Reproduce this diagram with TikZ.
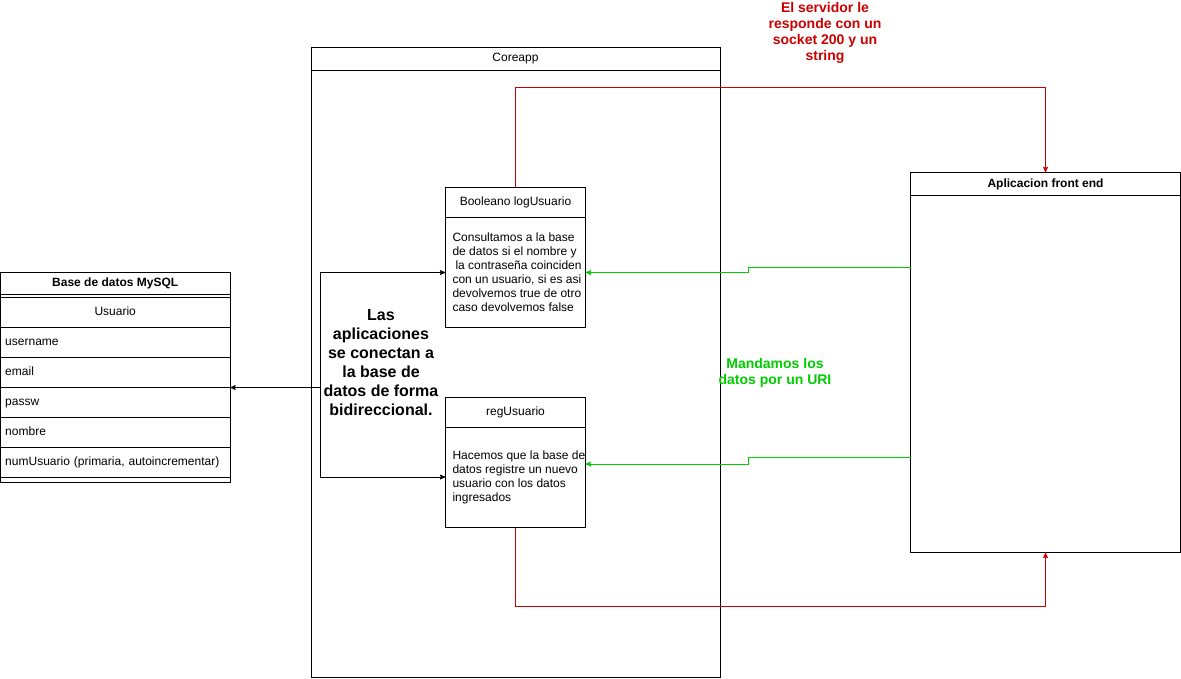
\documentclass[tikz,border=0pt]{standalone}
\usepackage{fontspec}
\setmainfont{Liberation Sans}
\usepackage{tikz}
\usetikzlibrary{arrows,positioning}
\definecolor{servred}{HTML}{CC0000}
\definecolor{urigreen}{HTML}{00CC00}

\tikzset{
  frame/.style={draw,rectangle,anchor=north west,inner sep=0pt,outer sep=0pt},
  headbox/.style={frame,font=\fontsize{12}{14}\selectfont},
  rowbox/.style={frame,minimum width=229.5,minimum height=30,font=\fontsize{12}{14}\selectfont,
    text width=220,align=left,text height=9pt,text depth=3pt},
  bodytext/.style={anchor=west,inner sep=0pt,align=left,font=\fontsize{12}{14}\selectfont},
}

\begin{document}
\begin{tikzpicture}[x=1pt,y=-1pt,>=stealth',line width=1pt]
  \useasboundingbox (0,0) rectangle (1181,678);

  % base de datos
  \node[frame,minimum width=229.5,minimum height=210] (db) at (0.5,272) {};
  \node[headbox,minimum width=229.5,minimum height=22.3,font=\fontsize{12}{14}\selectfont\bfseries] (dbh) at (0.5,272) {Base de datos MySQL};
  \node[rowbox,align=center,below=3pt of dbh.south west,anchor=north west] (r0) {Usuario};
  \node[rowbox,below=0pt of r0.south west,anchor=north west] (r1) {username};
  \node[rowbox,below=0pt of r1.south west,anchor=north west] (r2) {email};
  \node[rowbox,below=0pt of r2.south west,anchor=north west] (r3) {passw};
  \node[rowbox,below=0pt of r3.south west,anchor=north west] (r4) {nombre};
  \node[rowbox,below=0pt of r4.south west,anchor=north west] (r5) {numUsuario (primaria, autoincrementar)};

  % coreapp
  \node[frame,minimum width=409,minimum height=630] (core) at (311,47) {};
  \node[headbox,minimum width=409,minimum height=23] (coreh) at (311,47) {Coreapp};

  \node[frame,minimum width=140,minimum height=140] (login) at (445.5,187) {};
  \node[headbox,minimum width=140,minimum height=30] (loginh) at (445.5,187) {Booleano logUsuario};
  \node[bodytext] (logint) at (452,272) {Consultamos a la base\\de datos si el nombre y\\\hspace{3pt}la contraseña coinciden\\con un usuario, si es asi\\devolvemos true de otro\\caso devolvemos false};

  \node[frame,minimum width=140,minimum height=130] (reg) at (445.5,397.5) {};
  \node[headbox,minimum width=140,minimum height=30] (regh) at (445.5,397.5) {regUsuario};
  \node[bodytext] (regt) at (452,477) {Hacemos que la base de\\datos registre un nuevo\\usuario con los datos\\ingresados};

  \node[align=center,font=\fontsize{16}{19}\selectfont\bfseries] (nota) at (381,362.5) {Las\\aplicaciones\\se conectan a\\la base de\\datos de forma\\bidireccional.};

  % front end
  \node[frame,minimum width=270,minimum height=380] (front) at (910.5,172.5) {};
  \node[headbox,minimum width=270,minimum height=23,font=\fontsize{12}{14}\selectfont\bfseries] (fronth) at (910.5,172.5) {Aplicacion front end};

  \node[align=center,text=servred,font=\fontsize{14}{16}\selectfont\bfseries] (resp) at (825,33) {El servidor le\\responde con un\\socket 200 y un\\string};
  \node[align=center,text=urigreen,font=\fontsize{14}{16}\selectfont\bfseries] (uri) at (775,373) {Mandamos los\\datos por un URI};

  % conexiones
  \coordinate (hub) at (320.5,387.5);
  \draw[->] (hub) -- (db.east |- hub);
  \draw[->] (hub) |- (login.west |- 0,272.5);
  \draw[->] (hub) |- (reg.west |- 0,477);

  \draw[->,servred] (login.north) |- (0,87.5 -| front.north) -- (fronth.north);
  \draw[->,servred] (reg.south) |- (0,606.5 -| front.south) -- (front.south);

  \draw[->,urigreen] (front.west |- 0,267.5) -| (748.5,272.5) -- (login.east |- 0,272.5);
  \draw[->,urigreen] (front.west |- 0,457.5) -| (748.5,464) -- (reg.east |- 0,464);
\end{tikzpicture}
\end{document}
